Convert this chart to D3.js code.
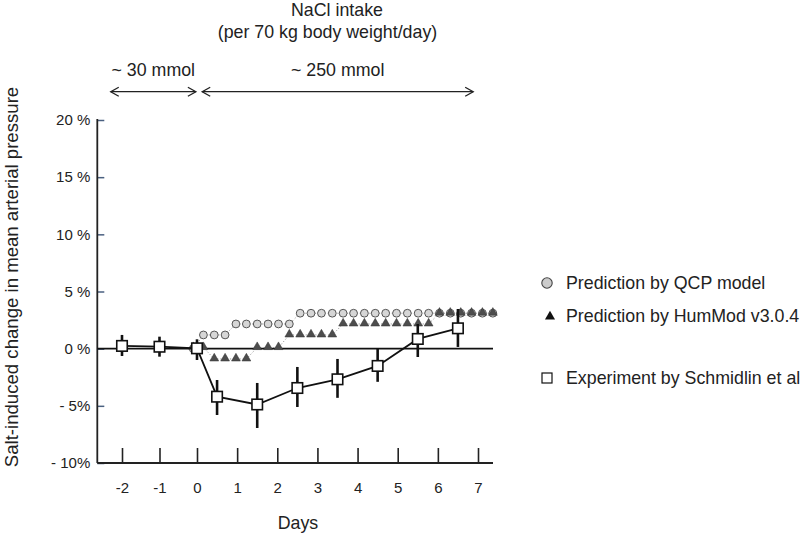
<!DOCTYPE html>
<html>
<head>
<meta charset="utf-8">
<script src="https://cdn.jsdelivr.net/npm/d3@7"></script>
<style>
  html, body { margin: 0; padding: 0; background: #fff; }
  svg { display: block; font-family: "Liberation Sans", Arial, Helvetica, sans-serif; }
</style>
</head>
<body>
<svg id="chart" width="800" height="534"></svg>
<script>
// ---------------- data ----------------
const xTicks = [-2, -1, 0, 1, 2, 3, 4, 5, 6, 7];
const yTicks = [20, 15, 10, 5, 0, -5, -10];
const yTickLabels = ["20 %", "15 %", "10 %", "5 %", "0 %", "- 5%", "- 10%"];

// Experiment by Schmidlin et al (day, mean %, lower %, upper %)
const expDays  = [-2, -1, 0, 0.5, 1.5, 2.5, 3.5, 4.5, 5.5, 6.5];
const expMean  = [0.24, 0.17, 0.03, -4.2, -4.88, -3.44, -2.68, -1.51, 0.85, 1.78];
const expLow   = [-0.64, -0.7, -0.99, -5.8, -6.94, -5.1, -4.3, -2.9, -0.73, 0.15];
const expHigh  = [1.2, 1.05, 0.82, -2.74, -3.0, -1.6, -0.9, 0.06, 2.16, 3.47];

// Model time points (days)
const modelDays = [-0.1, 0.16, 0.43, 0.70, 0.97, 1.23, 1.50, 1.77, 2.03, 2.30,
                   2.57, 2.84, 3.10, 3.37, 3.64, 3.90, 4.17, 4.44, 4.70, 4.97,
                   5.24, 5.51, 5.77, 6.04, 6.31, 6.57, 6.84, 7.11, 7.37];
// Prediction by QCP model (%)
const qcpValues = [0, 1.2, 1.2, 1.2, 2.16, 2.16, 2.16, 2.16, 2.16, 2.16,
                   3.1, 3.1, 3.1, 3.1, 3.1, 3.1, 3.1, 3.1, 3.1, 3.1,
                   3.1, 3.1, 3.1, 3.1, 3.1, 3.1, 3.1, 3.1, 3.1];
// Prediction by HumMod v3.0.4 (%)
const humValues = [0.1, 0.1, -0.9, -0.9, -0.9, -0.9, 0.1, 0.1, 0.1, 1.2,
                   1.2, 1.2, 1.2, 1.2, 2.16, 2.16, 2.16, 2.16, 2.16, 2.16,
                   2.16, 2.16, 2.16, 3.1, 3.1, 3.1, 3.1, 3.1, 3.1];

// NaCl intake periods (start day, end day, label)
const intakeStart = [-2.3, 0.13];
const intakeEnd   = [-0.03, 6.88];
const intakeLabel = ["~ 30 mmol", "~ 250 mmol"];

const legendLabels = ["Prediction by QCP model", "Prediction by HumMod v3.0.4", "Experiment by Schmidlin et al"];

// ---------------- chart ----------------
const svg = d3.select("#chart");
const FONT = 17.8;

const x = d3.scaleLinear().domain([-2, 0, 7]).range([122, 197, 478]);
const y = d3.scaleLinear().domain([-10, 20]).range([463, 120]);
const axisX = 97.3;
const axisRight = 493;

// titles
svg.append("text").attr("x", 337).attr("y", 9.5).attr("dy", "0.35em")
  .attr("text-anchor", "middle").attr("font-size", FONT).attr("fill", "#222").text("NaCl intake");
svg.append("text").attr("x", 327.5).attr("y", 31.5).attr("dy", "0.35em")
  .attr("text-anchor", "middle").attr("font-size", FONT).attr("fill", "#222").text("(per 70 kg body weight/day)");

// intake arrows
const arrowY = 91.7;
intakeStart.forEach((s, i) => {
  const x0 = x(s), x1 = x(intakeEnd[i]);
  const g = svg.append("g").attr("stroke", "#222").attr("stroke-width", 1.3).attr("fill", "none");
  g.append("line").attr("x1", x0).attr("x2", x1).attr("y1", arrowY).attr("y2", arrowY);
  g.append("path").attr("d", `M${x0 + 8},${arrowY - 4.5}L${x0},${arrowY}L${x0 + 8},${arrowY + 4.5}`);
  g.append("path").attr("d", `M${x1 - 8},${arrowY - 4.5}L${x1},${arrowY}L${x1 - 8},${arrowY + 4.5}`);
  svg.append("text").attr("x", (x0 + x1) / 2).attr("y", 70).attr("dy", "0.35em")
    .attr("text-anchor", "middle").attr("font-size", FONT).attr("fill", "#222").text(intakeLabel[i]);
});

// y axis
const yAxis = d3.axisLeft(y).tickValues(yTicks)
  .tickFormat((d, i) => yTickLabels[i]).tickSizeInner(-7).tickSizeOuter(0).tickPadding(7);
const gy = svg.append("g").attr("transform", `translate(${axisX},0)`).call(yAxis);
gy.select(".domain").remove();
gy.selectAll(".tick line").attr("stroke", "#4a6080").attr("stroke-width", 1.5);
gy.selectAll(".tick text").attr("font-size", 15).attr("fill", "#222")
  .attr("font-family", "Liberation Sans, Arial, sans-serif");
svg.append("line").attr("x1", axisX).attr("x2", axisX).attr("y1", 119).attr("y2", y(-10))
  .attr("stroke", "#222").attr("stroke-width", 1.8);

// x axis
const xAxis = d3.axisBottom(x).tickValues(xTicks).tickFormat(d3.format("d"))
  .tickSizeInner(-15).tickSizeOuter(0).tickPadding(19);
const gx = svg.append("g").attr("transform", `translate(0,${y(-10)})`).call(xAxis);
gx.select(".domain").remove();
gx.selectAll(".tick line").attr("stroke", "#222").attr("stroke-width", 1.6);
gx.selectAll(".tick text").attr("font-size", 15).attr("fill", "#222")
  .attr("font-family", "Liberation Sans, Arial, sans-serif")
  .text(d => d < 0 ? "-" + Math.abs(d) : d);
svg.append("line").attr("x1", axisX).attr("x2", axisRight).attr("y1", y(-10)).attr("y2", y(-10))
  .attr("stroke", "#222").attr("stroke-width", 1.8);

// axis titles
svg.append("text").attr("x", 298).attr("y", 523).attr("dy", "0.35em")
  .attr("text-anchor", "middle").attr("font-size", FONT).attr("fill", "#222").text("Days");
svg.append("text").attr("transform", "translate(11,277) rotate(-90)").attr("dy", "0.35em")
  .attr("text-anchor", "middle").attr("font-size", 18.6).attr("fill", "#222")
  .text("Salt-induced change in mean arterial pressure");

// zero line
svg.append("line").attr("x1", axisX).attr("x2", axisRight).attr("y1", y(0)).attr("y2", y(0))
  .attr("stroke", "#111").attr("stroke-width", 1.6);

// model dotted lines
const lineGen = d3.line().x(d => x(d[0])).y(d => y(d[1]));
const qcpData = modelDays.map((d, i) => [d, qcpValues[i]]);
const humData = modelDays.map((d, i) => [d, humValues[i]]);
[qcpData, humData].forEach(data => {
  svg.append("path").datum(data).attr("d", lineGen).attr("fill", "none")
    .attr("stroke", "#999").attr("stroke-width", 1).attr("stroke-dasharray", "1.2,2");
});

// QCP circles
svg.append("g").selectAll("circle").data(qcpData).join("circle")
  .attr("cx", d => x(d[0])).attr("cy", d => y(d[1])).attr("r", 3.9)
  .attr("fill", "#d6d6d6").attr("stroke", "#555").attr("stroke-width", 1);

// HumMod triangles
const tri = d3.symbol().type(d3.symbolTriangle).size(34);
svg.append("g").selectAll("path").data(humData).join("path")
  .attr("d", tri).attr("transform", d => `translate(${x(d[0])},${y(d[1]) - 0.5})`)
  .attr("fill", "#4d4d4d").attr("stroke", "#333").attr("stroke-width", 0.5);

// experiment line
const expData = expDays.map((d, i) => ({ d, m: expMean[i], lo: expLow[i], hi: expHigh[i] }));
svg.append("path").datum(expData)
  .attr("d", d3.line().x(e => x(e.d)).y(e => y(e.m)))
  .attr("fill", "none").attr("stroke", "#111").attr("stroke-width", 1.8);

// error bars
svg.append("g").selectAll("line").data(expData).join("line")
  .attr("x1", e => x(e.d)).attr("x2", e => x(e.d))
  .attr("y1", e => y(e.lo)).attr("y2", e => y(e.hi))
  .attr("stroke", "#111").attr("stroke-width", 2.6);

// squares
const sq = 10.5;
svg.append("g").selectAll("rect").data(expData).join("rect")
  .attr("x", e => x(e.d) - sq / 2).attr("y", e => y(e.m) - sq / 2)
  .attr("width", sq).attr("height", sq)
  .attr("fill", "#fff").attr("stroke", "#111").attr("stroke-width", 1.6);

// legend
const legX = 547, legTextX = 566;
const legY = [283, 316, 378];
const lg = svg.append("g");
lg.append("circle").attr("cx", legX).attr("cy", legY[0]).attr("r", 5.2)
  .attr("fill", "#ccc").attr("stroke", "#444").attr("stroke-width", 1.1);
lg.append("path").attr("d", d3.symbol().type(d3.symbolTriangle).size(44)())
  .attr("transform", `translate(${legX + 3},${legY[1] + 0.5})`).attr("fill", "#111");
lg.append("rect").attr("x", legX - 5).attr("y", legY[2] - 5).attr("width", 10).attr("height", 10)
  .attr("fill", "#fff").attr("stroke", "#111").attr("stroke-width", 1.2);
legendLabels.forEach((t, i) => {
  lg.append("text").attr("x", legTextX).attr("y", legY[i]).attr("dy", "0.35em")
    .attr("font-size", FONT).attr("fill", "#222").text(t);
});
</script>
</body>
</html>
